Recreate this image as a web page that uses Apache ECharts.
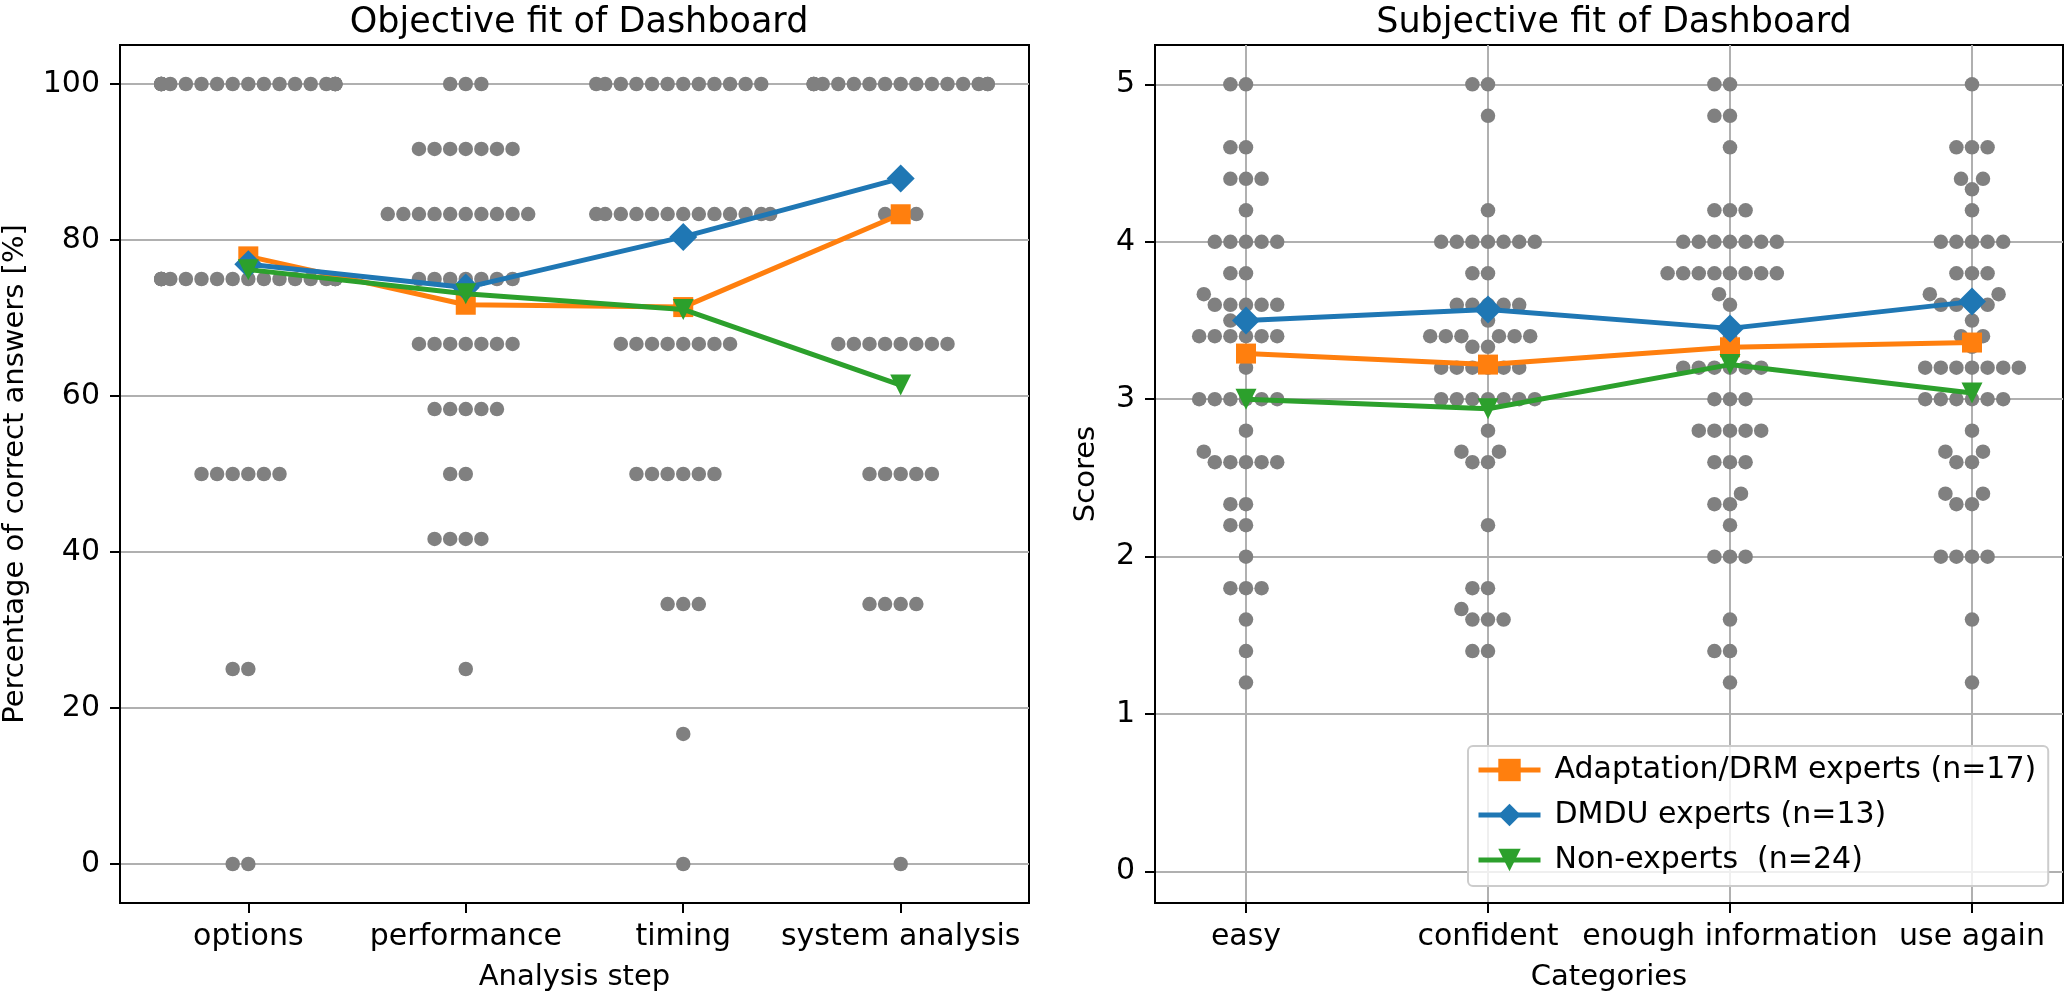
<!DOCTYPE html>
<html>
<head>
<meta charset="utf-8">
<script src="https://cdn.jsdelivr.net/npm/echarts@6/dist/echarts.min.js"></script>
<style>html,body{margin:0;padding:0;background:#fff}#c{width:2067px;height:997px}</style>
</head>
<body>
<div id="c"></div>
<script>
// ---------- data ----------
const objCategories = ['options', 'performance', 'timing', 'system analysis'];
const subjCategories = ['easy', 'confident', 'enough information', 'use again'];
const objTicks = [0, 20, 40, 60, 80, 100];
const subjTicks = [0, 1, 2, 3, 4, 5];
const seriesNames = ['Adaptation/DRM experts (n=17)', 'DMDU experts (n=13)', 'Non-experts  (n=24)'];

// group means (lines)
const objAdaptation = [77.9, 71.7, 71.4, 83.3];
const objDMDU = [76.9, 73.9, 80.4, 87.9];
const objNonExperts = [76.2, 73.1, 71.1, 61.4];
const subjAdaptation = [3.29, 3.22, 3.33, 3.36];
const subjDMDU = [3.50, 3.57, 3.45, 3.62];
const subjNonExperts = [3.00, 2.94, 3.22, 3.04];

// individual answers as [value, count]
const objOptionsDots = [[100, 20], [75, 18], [50, 6], [25, 2], [0, 2]];
const objPerformanceDots = [[100, 3], [91.667, 7], [83.333, 10], [75, 7], [66.667, 7], [58.333, 5], [50, 2], [41.667, 4], [25, 1]];
const objTimingDots = [[100, 12], [83.333, 13], [66.667, 8], [50, 6], [33.333, 3], [16.667, 1], [0, 1]];
const objSystemDots = [[100, 16], [83.333, 3], [66.667, 8], [50, 5], [33.333, 4], [0, 1]];

const subjEasyDots = [[5, 2], [4.6, 2], [4.4, 3], [4.2, 1], [4, 5], [3.8, 2], [3.667, 1], [3.6, 5], [3.5, 2], [3.4, 6], [3.2, 1], [3, 6], [2.8, 1], [2.667, 1], [2.6, 5], [2.333, 2], [2.2, 2], [2, 1], [1.8, 3], [1.6, 1], [1.4, 1], [1.2, 1]];
const subjConfidentDots = [[5, 2], [4.8, 1], [4.2, 1], [4, 7], [3.8, 2], [3.6, 5], [3.5, 1], [3.4, 6], [3.333, 2], [3.2, 6], [3, 7], [2.8, 1], [2.667, 2], [2.6, 2], [2.2, 1], [1.8, 2], [1.667, 1], [1.6, 3], [1.4, 2]];
const subjEnoughDots = [[5, 2], [4.8, 2], [4.6, 1], [4.2, 3], [4, 7], [3.8, 8], [3.667, 1], [3.6, 1], [3.4, 1], [3.2, 6], [3, 3], [2.8, 5], [2.6, 3], [2.4, 1], [2.333, 2], [2.2, 1], [2, 3], [1.6, 1], [1.4, 2], [1.2, 1]];
const subjUseAgainDots = [[5, 1], [4.6, 3], [4.4, 2], [4.333, 1], [4.2, 1], [4, 5], [3.8, 3], [3.667, 2], [3.6, 4], [3.5, 1], [3.4, 2], [3.333, 1], [3.2, 7], [3, 6], [2.8, 1], [2.667, 2], [2.6, 2], [2.4, 2], [2.333, 2], [2, 4], [1.6, 1], [1.2, 1]];

// ---------- chart ----------
const FONT = 'DejaVu Sans';
const COLORS = ['#ff7f0e', '#1f77b4', '#2ca02c'];
const SYMBOLS = ['rect', 'diamond', 'path://M0,0 L2,0 L1,2 Z'];
const SYMSIZE = [20, 28, 21];

function xAxisDef(grid, cats, min, max, name, split) {
  return {
    type: 'value', gridIndex: grid, min: min, max: max,
    name: name, nameLocation: 'middle', nameGap: 60,
    nameTextStyle: {fontFamily: FONT, fontSize: 29, color: '#000'},
    axisLine: {show: true, onZero: false, lineStyle: {color: '#000', width: 2}},
    axisTick: {show: true, length: 10, lineStyle: {color: '#000', width: 2}, customValues: [0, 1, 2, 3]},
    axisLabel: {customValues: [0, 1, 2, 3], formatter: v => cats[Math.round(v)], color: '#000', fontFamily: FONT, fontSize: 30, margin: 19},
    splitLine: {show: split, lineStyle: {color: '#b0b0b0', width: 2}}
  };
}
function yAxisDef(grid, ticks, min, max, name, gap) {
  return {
    type: 'value', gridIndex: grid, min: min, max: max,
    name: name, nameLocation: 'middle', nameGap: gap,
    nameTextStyle: {fontFamily: FONT, fontSize: 29, color: '#000'},
    axisLine: {show: true, onZero: false, lineStyle: {color: '#000', width: 2}},
    axisTick: {show: true, length: 10, lineStyle: {color: '#000', width: 2}, customValues: ticks},
    axisLabel: {customValues: ticks, color: '#000', fontFamily: FONT, fontSize: 30, margin: 20},
    splitLine: {show: true, lineStyle: {color: '#b0b0b0', width: 2}}
  };
}
function lineSeries(k, grid, values) {
  return {
    type: 'line', name: seriesNames[k], xAxisIndex: grid, yAxisIndex: grid,
    data: values.map((v, i) => [i, v]),
    symbol: SYMBOLS[k], symbolSize: SYMSIZE[k], showAllSymbol: true,
    itemStyle: {color: COLORS[k]}, lineStyle: {color: COLORS[k], width: 5},
    z: 3 + k, silent: true
  };
}

const chart = echarts.init(document.getElementById('c'));
chart.setOption({
  animation: false,
  backgroundColor: '#fff',
  title: [
    {text: 'Objective fit of Dashboard', left: 574, top: 0, textAlign: 'center', textStyle: {fontFamily: FONT, fontSize: 35, fontWeight: 'normal', color: '#000'}},
    {text: 'Subjective fit of Dashboard', left: 1609, top: 0, textAlign: 'center', textStyle: {fontFamily: FONT, fontSize: 35, fontWeight: 'normal', color: '#000'}}
  ],
  grid: [
    {left: 120, top: 45, width: 909, height: 860, show: true, borderColor: '#000', borderWidth: 2, backgroundColor: 'transparent'},
    {left: 1155, top: 45, width: 908, height: 860, show: true, borderColor: '#000', borderWidth: 2, backgroundColor: 'transparent'}
  ],
  xAxis: [
    xAxisDef(0, objCategories, -0.59, 3.59, 'Analysis step', false),
    xAxisDef(1, subjCategories, -0.376, 3.376, 'Categories', true)
  ],
  yAxis: [
    yAxisDef(0, objTicks, -5, 105, 'Percentage of correct answers [%]', 90),
    yAxisDef(1, subjTicks, -0.2, 5.25, 'Scores', 54)
  ],
  legend: {
    data: seriesNames, orient: 'vertical', left: 1468, top: 746,
    padding: [9, 12, 11, 8], itemGap: 15, itemWidth: 62, itemHeight: 28,
    selectedMode: false,
    lineStyle: {width: 5},
    backgroundColor: 'rgba(255,255,255,0.8)', borderColor: '#cccccc', borderWidth: 2, borderRadius: 5,
    textStyle: {fontFamily: FONT, fontSize: 30, color: '#000', lineHeight: 30, padding: [0, 0, 0, 9]}
  },
  series: [
    {id: 'objDots', type: 'scatter', xAxisIndex: 0, yAxisIndex: 0, data: [], symbol: 'circle', symbolSize: 14.5, itemStyle: {color: '#808080', opacity: 1}, z: 2, silent: true},
    {id: 'subjDots', type: 'scatter', xAxisIndex: 1, yAxisIndex: 1, data: [], symbol: 'circle', symbolSize: 14.5, itemStyle: {color: '#808080', opacity: 1}, z: 2, silent: true},
    lineSeries(0, 0, objAdaptation), lineSeries(1, 0, objDMDU), lineSeries(2, 0, objNonExperts),
    lineSeries(0, 1, subjAdaptation), lineSeries(1, 1, subjDMDU), lineSeries(2, 1, subjNonExperts)
  ]
});

// ---------- swarm layout (seaborn-like beeswarm, in pixel space) ----------
function beeswarm(xyr) {
  const midline = xyr[0].x;
  const swarm = [xyr[0]];
  for (let k = 1; k < xyr.length; k++) {
    const p = xyr[k];
    const neighbors = [];
    for (let j = swarm.length - 1; j >= 0; j--) {
      const q = swarm[j];
      if (p.y - q.y < p.r + q.r) neighbors.push(q); else break;
    }
    neighbors.reverse();
    const cands = [{x: p.x, y: p.y, r: p.r, v: p.v}];
    let leftFirst = true;
    for (const q of neighbors) {
      const dy = p.y - q.y;
      const dx = Math.sqrt(Math.max((p.r + q.r) ** 2 - dy * dy, 0)) * 1.05;
      const cl = {x: q.x - dx, y: p.y, r: p.r, v: p.v};
      const cr = {x: q.x + dx, y: p.y, r: p.r, v: p.v};
      if (leftFirst) cands.push(cl, cr); else cands.push(cr, cl);
      leftFirst = !leftFirst;
    }
    const order = cands.map((c, i) => ({c: c, i: i, o: Math.round(Math.abs(c.x - midline) * 1e5) / 1e5}));
    order.sort((a, b) => (a.o - b.o) || (a.i - b.i));
    let chosen = order[0].c;
    if (neighbors.length) {
      chosen = null;
      for (const item of order) {
        const c = item.c;
        let ok = true;
        for (const q of neighbors) {
          const ddx = q.x - c.x, ddy = q.y - c.y;
          if (ddx * ddx + ddy * ddy < (q.r + c.r) ** 2 - 1e-6) { ok = false; break; }
        }
        if (ok) { chosen = c; break; }
      }
      if (!chosen) chosen = order[order.length - 1].c;
    }
    swarm.push(chosen);
  }
  return swarm;
}

function swarmPoints(gridIndex, catIndex, dots) {
  const R = 7.43;
  const vals = [];
  dots.forEach(d => { for (let k = 0; k < d[1]; k++) vals.push(d[0]); });
  vals.sort((a, b) => a - b);
  const c0 = chart.convertToPixel({gridIndex: gridIndex}, [catIndex, 0]);
  const c1 = chart.convertToPixel({gridIndex: gridIndex}, [catIndex + 1, 0]);
  const perUnit = c1[0] - c0[0];
  const xyr = vals.map(v => {
    const p = chart.convertToPixel({gridIndex: gridIndex}, [catIndex, v]);
    return {x: p[0], y: -p[1], r: R, v: v};
  });
  if (!xyr.length) return [];
  return beeswarm(xyr).map(s => {
    let dx = (s.x - c0[0]) / perUnit;
    dx = Math.max(-0.4, Math.min(0.4, dx));
    return [catIndex + dx, s.v];
  });
}

const objDots = [objOptionsDots, objPerformanceDots, objTimingDots, objSystemDots];
const subjDots = [subjEasyDots, subjConfidentDots, subjEnoughDots, subjUseAgainDots];
let objData = [], subjData = [];
objDots.forEach((d, i) => { objData = objData.concat(swarmPoints(0, i, d)); });
subjDots.forEach((d, i) => { subjData = subjData.concat(swarmPoints(1, i, d)); });
chart.setOption({series: [{id: 'objDots', data: objData}, {id: 'subjDots', data: subjData}]});
</script>
</body>
</html>
